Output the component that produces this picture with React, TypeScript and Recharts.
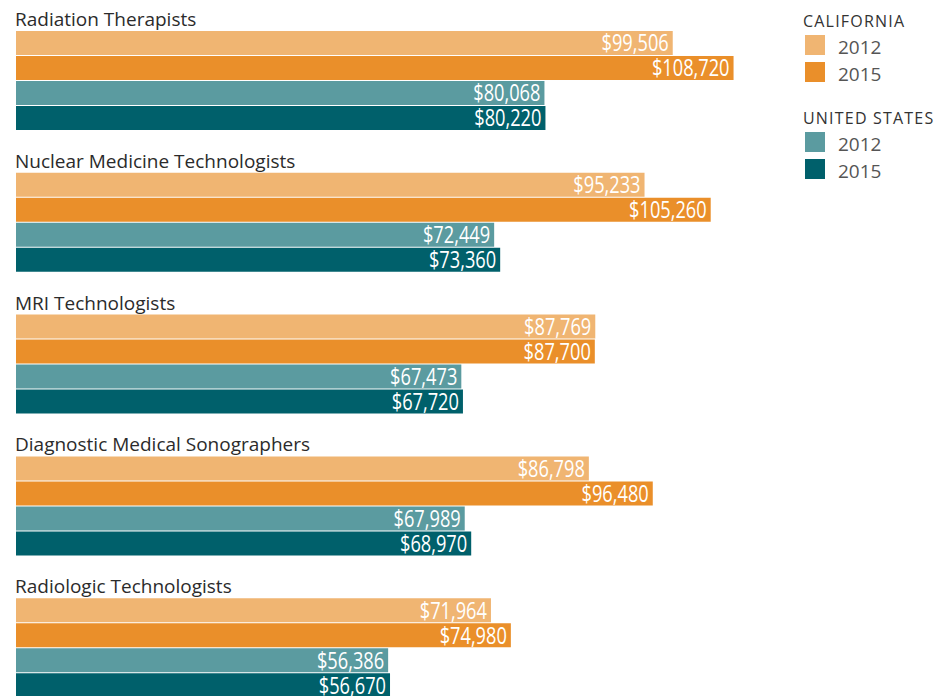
import React from 'react'
import { BarChart, Bar, XAxis, YAxis, LabelList } from 'recharts'

const categories = [
  'Radiation Therapists',
  'Nuclear Medicine Technologists',
  'MRI Technologists',
  'Diagnostic Medical Sonographers',
  'Radiologic Technologists',
]
const ca2012 = [99506, 95233, 87769, 86798, 71964]
const ca2015 = [108720, 105260, 87700, 96480, 74980]
const us2012 = [80068, 72449, 67473, 67989, 56386]
const us2015 = [80220, 73360, 67720, 68970, 56670]

const series = [
  { key: 'ca2012', group: 'CALIFORNIA', name: '2012', color: '#F0B572', values: ca2012 },
  { key: 'ca2015', group: 'CALIFORNIA', name: '2015', color: '#EA8F2A', values: ca2015 },
  { key: 'us2012', group: 'UNITED STATES', name: '2012', color: '#5B9BA0', values: us2012 },
  { key: 'us2015', group: 'UNITED STATES', name: '2015', color: '#00606B', values: us2015 },
]

const data = categories.map((name, i) => {
  const row: any = { name }
  series.forEach((s) => {
    row[s.key] = s.values[i]
  })
  return row
})

const MARGIN_LEFT = 15
const textFont = '"Open Sans", "Noto Sans", sans-serif'

const fmt = (v: any) => '$' + Number(v).toLocaleString('en-US')

// group title drawn above its four bars
function GroupTitle(props: any) {
  const { y, payload } = props
  return (
    <text x={MARGIN_LEFT} y={y - 55} fill="#2b2b2b" fontSize={19} fontFamily={textFont} textAnchor="start">
      {payload.value}
    </text>
  )
}

// condensed white value label at the end of each bar
function ValueLabel(props: any) {
  const { x, y, width, height, value } = props
  const ax = x + width - 4
  const ay = y + height / 2
  return (
    <text
      transform={`translate(${ax},${ay}) scale(0.76,1)`}
      x={0}
      y={0}
      dy="0.35em"
      textAnchor="end"
      fill="#fff"
      fontSize={24}
      fontFamily={textFont}
    >
      {fmt(value)}
    </text>
  )
}

function SideLegend() {
  const groups = ['CALIFORNIA', 'UNITED STATES']
  return (
    <svg width={150} height={190} style={{ position: 'absolute', left: 800, top: 0 }}>
      {groups.map((g, gi) => {
        const top = gi * 97
        const items = series.filter((s) => s.group === g)
        return (
          <g key={g}>
            <text x={3} y={top + 27} fontSize={16} letterSpacing={1.2} fill="#333" fontFamily={textFont}>
              {g}
            </text>
            {items.map((s, i) => (
              <g key={s.key}>
                <rect x={5} y={top + 35 + i * 27} width={20} height={20} fill={s.color} />
                <text x={38} y={top + 54 + i * 27} fontSize={19} fill="#555" fontFamily={textFont}>
                  {s.name}
                </text>
              </g>
            ))}
          </g>
        )
      })}
    </svg>
  )
}

export default function App() {
  return (
    <div style={{ position: 'absolute', left: 0, top: 0, width: 951, height: 696, overflow: 'hidden', background: '#fff' }}>
      <BarChart
        width={951}
        height={719}
        data={data}
        layout="vertical"
        margin={{ top: 10, right: 11, left: MARGIN_LEFT, bottom: 0 }}
        barSize={24}
        barGap={1}
      >
        <XAxis type="number" domain={[0, 140000]} hide />
        <YAxis
          type="category"
          dataKey="name"
          width={1}
          axisLine={false}
          tickLine={false}
          tick={(p: any) => <GroupTitle {...p} />}
          interval={0}
        />
        {series.map((s) => (
          <Bar key={s.key} dataKey={s.key} fill={s.color} isAnimationActive={false}>
            <LabelList dataKey={s.key} content={(p: any) => <ValueLabel {...p} />} />
          </Bar>
        ))}
      </BarChart>
      <SideLegend />
    </div>
  )
}
